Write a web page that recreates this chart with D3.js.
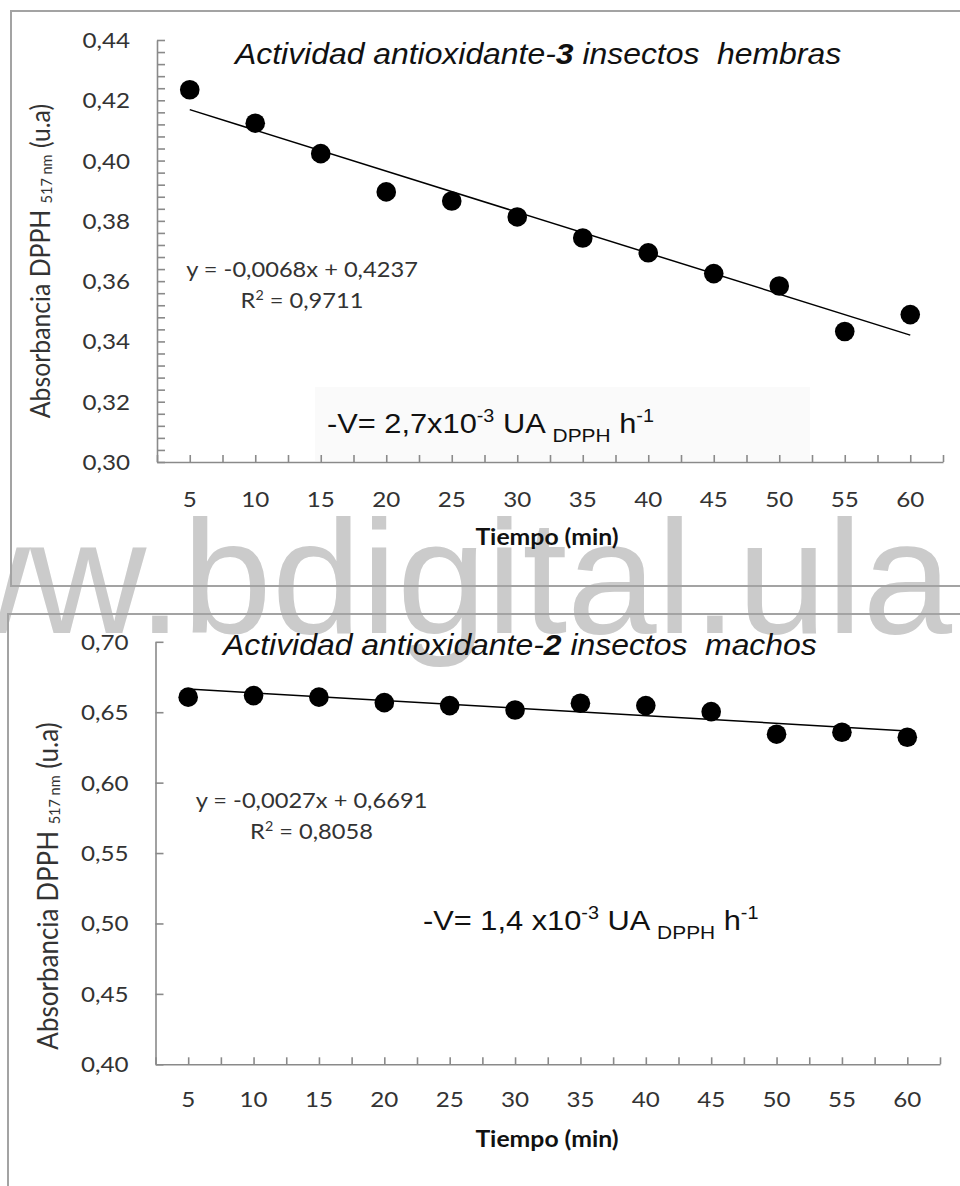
<!DOCTYPE html>
<html>
<head>
<meta charset="utf-8">
<script src="https://cdn.jsdelivr.net/npm/d3@7"></script>
<style>
  body { margin: 0; background: #fff; }
  svg { display: block; }
</style>
</head>
<body>
<svg id="fig" width="960" height="1186"></svg>
<script>
// Sampling times (min)
const minutes = [5, 10, 15, 20, 25, 30, 35, 40, 45, 50, 55, 60];

// DPPH absorbance at 517 nm — 3 female insects
const absFemales = [0.4235, 0.4124, 0.4023, 0.3896, 0.3866, 0.3813, 0.3743, 0.3694, 0.3625, 0.3584, 0.3433, 0.3489];
// DPPH absorbance at 517 nm — 2 male insects
const absMales = [0.6607, 0.6618, 0.6607, 0.6568, 0.6547, 0.6516, 0.6564, 0.6547, 0.6504, 0.6344, 0.6358, 0.6322];

// Linear fits (slope, intercept) over sample number 1..12
const fitFemales = [-0.0068, 0.4237];
const fitMales = [-0.0027, 0.6691];
const eqFemales = ["y = -0,0068x + 0,4237", "0,9711"];
const eqMales = ["y = -0,0027x + 0,6691", "0,8058"];

// Axis ticks
const yTicksFemales = [0.30, 0.32, 0.34, 0.36, 0.38, 0.40, 0.42, 0.44];
const yMinorFemales = [0.30, 0.304, 0.308, 0.312, 0.316, 0.32, 0.324, 0.328, 0.332, 0.336, 0.34, 0.344, 0.348, 0.352, 0.356, 0.36, 0.364, 0.368, 0.372, 0.376, 0.38, 0.384, 0.388, 0.392, 0.396, 0.40, 0.404, 0.408, 0.412, 0.416, 0.42, 0.424, 0.428, 0.432, 0.436, 0.44];
const yTicksMales = [0.40, 0.45, 0.50, 0.55, 0.60, 0.65, 0.70];
const xTickMarks = [2.5, 5, 7.5, 10, 12.5, 15, 17.5, 20, 22.5, 25, 27.5, 30, 32.5, 35, 37.5, 40, 42.5, 45, 47.5, 50, 52.5, 55, 57.5, 60, 62.5];

const SX = 1.1; // horizontal stretch of the lettering
const CAL = "Lato, 'Open Sans', sans-serif";
const ARI = "'Liberation Sans', Arial, sans-serif";

const comma = d3.formatLocale({ decimal: ",", thousands: ".", grouping: [3], currency: ["", ""] }).format(".2f");

const svg = d3.select("#fig");

// text with optional sub/superscript pieces
function rich(parent, x, y, segs, o) {
  const tr = o.rotate
    ? `translate(${x},${y}) rotate(${o.rotate}) scale(1,${SX})`
    : `translate(${x},${y}) scale(${SX},1)`;
  const t = parent.append("text")
    .attr("transform", tr)
    .attr("font-family", o.font)
    .attr("font-size", o.size)
    .attr("font-style", o.italic ? "italic" : null)
    .attr("font-weight", o.weight || null)
    .attr("text-anchor", o.anchor || "start")
    .attr("fill", o.fill || "#000")
    .style("white-space", "pre");
  let cur = 0;
  segs.forEach(s => {
    const seg = typeof s === "string" ? { t: s } : s;
    const shift = seg.shift || 0;
    t.append("tspan")
      .attr("dy", shift - cur)
      .attr("font-size", seg.size || null)
      .attr("font-weight", seg.weight || null)
      .text(seg.t);
    cur = shift;
  });
  return t;
}

// background watermark
const wm = svg.append("text")
  .text("www.bdigital.ula.ve")
  .attr("font-family", ARI)
  .attr("font-size", 160)
  .attr("y", 633)
  .attr("fill", "#cbcbcb");
{
  const node = wm.node();
  const span = node.getSubStringLength(3, 9);
  const fs = 160 * 555 / span;
  wm.attr("font-size", fs);
  const lead = node.getSubStringLength(0, 3);
  wm.attr("x", 152 - 0.09 * fs - lead);
}

// frames around each plot
const frame = svg.append("g").attr("fill", "none").attr("stroke", "#a3a3a3").attr("stroke-width", 2);
frame.append("path").attr("d", "M960,11 H11 V586 H960");
frame.append("path").attr("d", "M960,614 H8 V1186");

const panels = [
  {
    values: absFemales, fit: fitFemales, eq: eqFemales,
    x0: 157, x1: 943, yB: 462, yT: 40, yDomain: [0.30, 0.44],
    yTicks: yTicksFemales, yMarks: yMinorFemales,
    title: ["Actividad antioxidante-", { t: "3", weight: "bold" }, " insectos  hembras"], titleX: 235, titleY: 64,
    eqX: 302, eqY: 277,
    rate: "2,7x10", rateX: 327, rateY: 433, rateBox: [315, 387, 495, 74],
    yLabX: 50, yLabY: 261, yLabSize: 24.8,
    xLabY: 545, xTickY: 507
  },
  {
    values: absMales, fit: fitMales, eq: eqMales,
    x0: 155.5, x1: 940, yB: 1064.3, yT: 641.8, yDomain: [0.40, 0.70],
    yTicks: yTicksMales, yMarks: yTicksMales,
    title: ["Actividad antioxidante-", { t: "2", weight: "bold" }, " insectos  machos"], titleX: 223, titleY: 655,
    eqX: 311.5, eqY: 808,
    rate: "1,4 x10", rateX: 423, rateY: 930, rateBox: null,
    yLabX: 58, yLabY: 886, yLabSize: 26,
    xLabY: 1147, xTickY: 1107
  }
];

panels.forEach(p => {
  const g = svg.append("g");
  const x = d3.scaleLinear().domain([2.5, 62.5]).range([p.x0, p.x1]);
  const y = d3.scaleLinear().domain(p.yDomain).range([p.yB, p.yT]);

  if (p.rateBox) {
    g.append("rect")
      .attr("x", p.rateBox[0]).attr("y", p.rateBox[1])
      .attr("width", p.rateBox[2]).attr("height", p.rateBox[3])
      .attr("fill", "#fafafa");
  }

  // axes with inward ticks
  const yAx = g.append("g").attr("transform", `translate(${p.x0},0)`)
    .call(d3.axisLeft(y).tickValues(p.yMarks).tickSizeInner(-8).tickSizeOuter(0).tickFormat(""));
  const xAx = g.append("g").attr("transform", `translate(0,${p.yB})`)
    .call(d3.axisBottom(x).tickValues(xTickMarks).tickSizeInner(-7).tickSizeOuter(0).tickFormat(""));
  [yAx, xAx].forEach(a => {
    a.selectAll("path,line").attr("stroke", "#8a8a8a").attr("stroke-width", 1.6);
  });

  // tick labels
  p.yTicks.forEach(v => {
    rich(g, p.x0 - 27, y(v) + 8, [comma(v)], { font: CAL, size: 22, anchor: "end", fill: "#333" });
  });
  minutes.forEach(m => {
    rich(g, x(m), p.xTickY, [String(m)], { font: CAL, size: 22, anchor: "middle", fill: "#333" });
  });

  // axis titles
  rich(g, 547, p.xLabY, ["Tiempo (min)"], { font: CAL, size: 22.5, anchor: "middle", weight: "bold", fill: "#111" });
  rich(g, p.yLabX, p.yLabY, ["Absorbancia DPPH ", { t: "517 nm", size: 14.5, shift: 2 }, " (u.a)"],
    { font: CAL, size: p.yLabSize, anchor: "middle", rotate: -90, fill: "#333" });

  // chart title
  rich(g, p.titleX, p.titleY, p.title, { font: ARI, size: 29, italic: true, fill: "#111" });

  // fitted line over sample number
  const line = d3.line().x(d => x(d[0])).y(d => y(d[1]));
  const idx = [0, minutes.length - 1];
  g.append("path")
    .datum(idx.map(i => [minutes[i], p.fit[0] * (i + 1) + p.fit[1]]))
    .attr("d", line)
    .attr("fill", "none").attr("stroke", "#000").attr("stroke-width", 1.5);

  // measured points
  g.selectAll("circle.pt").data(p.values).join("circle")
    .attr("class", "pt")
    .attr("cx", (d, i) => x(minutes[i]))
    .attr("cy", d => y(d))
    .attr("r", 9.8)
    .attr("fill", "#000");

  // regression equation
  rich(g, p.eqX, p.eqY, [p.eq[0]], { font: CAL, size: 21.5, anchor: "middle", fill: "#333" });
  rich(g, p.eqX, p.eqY + 31, ["R", { t: "2", size: 13, shift: -8 }, " = " + p.eq[1]],
    { font: CAL, size: 21.5, anchor: "middle", fill: "#333" });

  // rate annotation
  rich(g, p.rateX, p.rateY, [
    "-V= " + p.rate, { t: "-3", size: 18, shift: -11 }, " UA ",
    { t: "DPPH", size: 19, shift: 9 }, " h", { t: "-1", size: 18, shift: -11 }
  ], { font: ARI, size: 28, fill: "#111" });
});
</script>
</body>
</html>
